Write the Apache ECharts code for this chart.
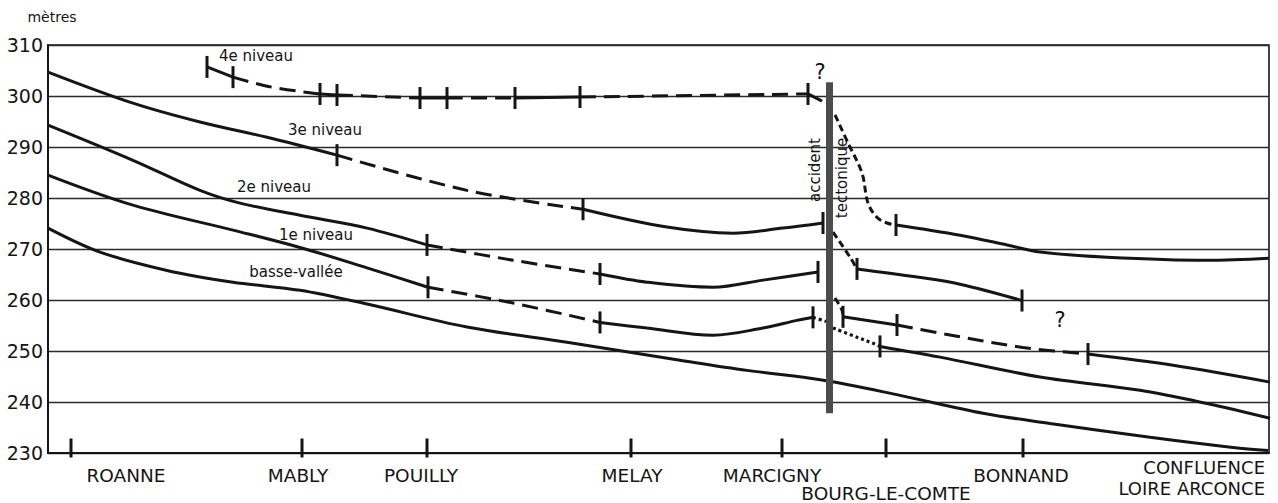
<!DOCTYPE html>
<html><head><meta charset="utf-8">
<script src="https://cdn.jsdelivr.net/npm/echarts@6/dist/echarts.min.js"></script>
<style>html,body{margin:0;padding:0;background:#fff}#c{width:1278px;height:503px}</style>
</head><body><div id="c"></div>
<script>
// ---------- DATA (distance in km-like units along the valley, altitude in metres) ----------
const yMin = 230, yMax = 310, yStep = 10;
const xMax = 122.1;

const placeNames = ['ROANNE', 'MABLY', 'POUILLY', 'MELAY', 'MARCIGNY', 'BOURG-LE-COMTE', 'BONNAND'];
const placeKm = [2.3, 25.4, 37.9, 58.3, 73.4, 83.8, 97.5];
const endName = 'CONFLUENCE\nLOIRE ARCONCE';
const endKm = 122.1;

// 4e niveau, upstream of the fault
const niv4Up = [[15.9,305.7],[18.5,303.7],[22.2,301.8],[27.2,300.4],[28.9,300.2],[37.2,299.6],[39.9,299.6],[46.7,299.6],[53.2,299.8],[76.0,300.4],[77.4,299.0]];
const niv4UpTicks = [0,1,3,4,5,6,7,8,9];
// upper terrace downstream of the fault
const niv4Down = [[78.7,296.3],[80.0,290.8],[81.4,284.9],[82.0,279.0],[82.9,276.2],[83.9,275.1],[84.8,274.7],[91.2,272.7],[95.9,270.8],[99.2,269.4],[105.9,268.4],[115.9,267.8],[122.1,268.2]];
const niv4DownTicks = [6];

const niv3Up = [[0,304.7],[8.5,298.6],[15.2,294.9],[21.9,291.9],[28.9,288.4],[41.9,281.5],[53.5,277.8],[61.9,274.3],[68.5,273.1],[73.5,274.1],[77.5,275.1]];
const niv3UpTicks = [4,6,10];
const niv3Down = [[78.5,273.3],[80.2,268.4],[80.9,266.1],[86.9,264.5],[91.2,263.1],[97.4,259.9]];
const niv3DownTicks = [2,5];

const niv2Up = [[0,294.3],[8.5,287.4],[15.2,281.5],[19.2,279.0],[25.2,276.6],[31.9,274.1],[37.9,270.8],[46.5,267.8],[55.2,265.1],[59.9,263.5],[66.5,262.5],[71.5,263.9],[77.0,265.5]];
const niv2UpTicks = [6,8,12];
const niv2Down = [[78.7,260.4],[79.4,258.0],[79.5,256.7],[84.9,255.1],[89.2,253.5],[97.5,250.7],[104.0,249.4],[112.5,247.2],[122.2,243.9]];
const niv2DownTicks = [2,3,6];

const niv1Up = [[0,284.5],[8.5,278.6],[18.5,273.7],[25.2,270.3],[31.9,266.3],[38.0,262.5],[46.5,259.4],[55.2,255.6],[59.9,254.5],[66.5,253.1],[71.5,254.5],[74.9,256.0],[76.5,256.6],[77.8,255.8]];
const niv1UpTicks = [5,7,12];
const niv1Down = [[78.5,254.5],[80.9,252.7],[82.5,251.5],[83.2,250.9],[89.2,248.8],[99.2,244.9],[109.2,242.3],[115.9,239.7],[122.2,236.8]];
const niv1DownTicks = [3];

const basseVallee = [[0,274.1],[5.2,269.4],[11.9,265.8],[18.5,263.5],[25.2,261.9],[31.9,259.2],[41.9,254.7],[51.9,251.7],[63.2,248.2],[69.9,246.2],[77.4,244.3],[85.2,241.3],[93.5,237.8],[100.2,235.8],[110.2,233.1],[118.5,231.1],[122.0,230.5]];

const fault = [[78.15,302.7],[78.15,237.8]];

// ---------- STYLE ----------
const ink = '#151515';
const FONT = 'DejaVu Sans';
const SOLID = 'solid', DASH = [16, 8], SDASH = [7, 4], DOT = [3, 3];
// segment styles: [fromIndex, toIndex, type]
const segs = [
  [niv4Up,   [[0,1,SOLID],[1,3,DASH],[3,4,SOLID],[4,5,DASH],[5,6,SOLID],[6,7,DASH],[7,8,SOLID],[8,9,DASH],[9,10,SOLID]]],
  [niv4Down, [[0,6,SDASH],[6,12,SOLID]]],
  [niv3Up,   [[0,4,SOLID],[4,6,DASH],[6,10,SOLID]]],
  [niv3Down, [[0,2,SDASH],[2,5,SOLID]]],
  [niv2Up,   [[0,6,SOLID],[6,8,DASH],[8,12,SOLID]]],
  [niv2Down, [[0,2,SDASH],[2,3,SOLID],[3,6,DASH],[6,8,SOLID]]],
  [niv1Up,   [[0,5,SOLID],[5,7,DASH],[7,12,SOLID],[12,13,DOT]]],
  [niv1Down, [[0,3,DOT],[3,8,SOLID]]],
  [basseVallee, [[0,16,SOLID]]]
];
const tickSets = [[niv4Up,niv4UpTicks],[niv4Down,niv4DownTicks],[niv3Up,niv3UpTicks],[niv3Down,niv3DownTicks],
  [niv2Up,niv2UpTicks],[niv2Down,niv2DownTicks],[niv1Up,niv1UpTicks],[niv1Down,niv1DownTicks]];

const placeLabelOffset = {
  'ROANNE':[55,27], 'MABLY':[-4,27], 'POUILLY':[-6,27], 'MELAY':[1,27], 'MARCIGNY':[-10,27],
  'BOURG-LE-COMTE':[0,45], 'BONNAND':[-2,27]
};

const series = [];
segs.forEach(([pts, list]) => {
  list.forEach(([a, b, type]) => {
    series.push({
      type: 'line', data: pts.slice(a, b + 1), smooth: 0.35, symbol: 'none', silent: true,
      lineStyle: { color: ink, width: type === DOT ? 3.2 : 3, type: type, cap: 'butt' }, z: 3
    });
  });
});
tickSets.forEach(([pts, idx]) => {
  series.push({
    type: 'scatter', data: idx.map(i => pts[i]), symbol: 'rect', symbolSize: [3, 22], silent: true,
    itemStyle: { color: ink, opacity: 1 }, z: 4
  });
});
// fault
series.push({
  type: 'line', data: fault, symbol: 'none', silent: true,
  lineStyle: { color: '#4c4c4c', width: 7, cap: 'butt' }, z: 6
});
// place ticks + labels
series.push({
  type: 'scatter', clip: false, silent: true, z: 5,
  data: placeKm.map((k, i) => ({ value: [k, yMin], name: placeNames[i],
    label: { offset: placeLabelOffset[placeNames[i]] } })),
  symbol: 'rect', symbolSize: [3, 19], symbolOffset: [0, -5],
  itemStyle: { color: ink, opacity: 1 },
  label: { show: true, position: 'inside', formatter: p => p.name, color: ink, opacity: 1,
    fontFamily: FONT, fontSize: 18.5 }
});
series.push({
  type: 'scatter', clip: false, silent: true, z: 5,
  data: [{ value: [endKm, yMin], name: endName }],
  symbolSize: 0, itemStyle: { opacity: 1 },
  label: { show: true, position: 'inside', formatter: p => p.name, color: ink, align: 'right', opacity: 1,
    fontFamily: FONT, fontSize: 18, lineHeight: 21, offset: [-4, 25] }
});

function txt(text, x, y, size, rot) {
  return { type: 'text', x: x, y: y, rotation: rot || 0, z: 10,
    style: { text: text, x: 0, y: 0, fill: ink, font: size + 'px "' + FONT + '"', align: 'center', verticalAlign: 'middle' } };
}

const chart = echarts.init(document.getElementById('c'), null, { renderer: 'svg' });
chart.setOption({
  animation: false,
  backgroundColor: '#fff',
  grid: { left: 48, right: 9, top: 45, bottom: 50, show: true, borderColor: ink, borderWidth: 1.6 },
  xAxis: { type: 'value', min: 0, max: xMax, axisLabel: { show: false }, axisTick: { show: false },
    splitLine: { show: false }, axisLine: { lineStyle: { color: ink, width: 2 } } },
  yAxis: { type: 'value', min: yMin, max: yMax, interval: yStep,
    axisLine: { show: true, lineStyle: { color: ink, width: 2 } }, axisTick: { show: false },
    axisLabel: { color: ink, fontFamily: FONT, fontSize: 19, margin: 5 },
    splitLine: { lineStyle: { color: '#2a2a2a', width: 1.3 } } },
  series: series,
  graphic: [
    txt('mètres', 52, 17, 14),
    txt('4e niveau', 256, 56, 15),
    txt('3e niveau', 325, 130, 15),
    txt('2e niveau', 274, 187, 15),
    txt('1e niveau', 316, 235, 15),
    txt('basse-vallée', 296, 272, 15),
    txt('?', 820, 72, 21),
    txt('?', 1060, 320, 21),
    txt('accident', 815, 170, 15, Math.PI / 2),
    txt('tectonique', 842, 178, 15, Math.PI / 2)
  ]
});
</script></body></html>
